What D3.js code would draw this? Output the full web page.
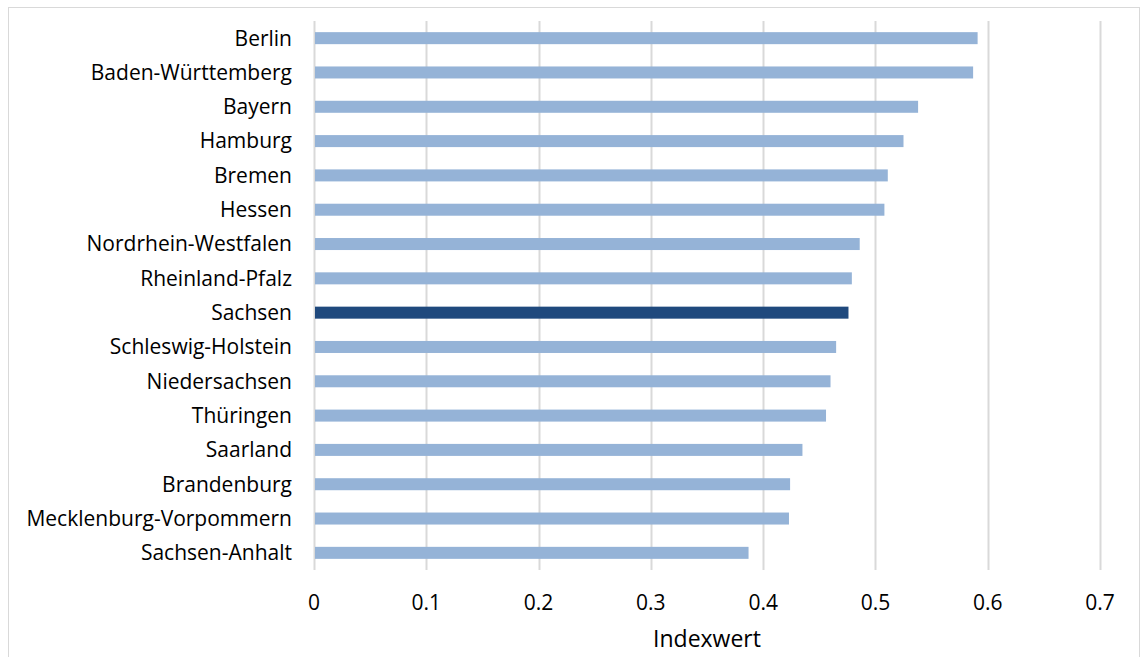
<!DOCTYPE html>
<html><head><meta charset="utf-8">
<script src="https://cdn.jsdelivr.net/npm/d3@7"></script>
<style>body{margin:0;background:#fff}svg{display:block}text{font-family:"Open Sans",Lato,sans-serif;fill:#000}</style>
</head><body><svg id="c" width="1147" height="657"></svg>
<script>
const categories = ["Berlin","Baden-Württemberg","Bayern","Hamburg","Bremen","Hessen","Nordrhein-Westfalen","Rheinland-Pfalz","Sachsen","Schleswig-Holstein","Niedersachsen","Thüringen","Saarland","Brandenburg","Mecklenburg-Vorpommern","Sachsen-Anhalt"];
const values = [0.591,0.587,0.538,0.525,0.511,0.508,0.486,0.479,0.476,0.465,0.460,0.456,0.435,0.424,0.423,0.387];
const highlight = "Sachsen";
const ticks = [0,0.1,0.2,0.3,0.4,0.5,0.6,0.7];
const tickLabels = ["0","0.1","0.2","0.3","0.4","0.5","0.6","0.7"];
const axisTitle = "Indexwert";

const svg = d3.select("#c");
svg.append("rect").attr("x",8.5).attr("y",7.5).attr("width",1131).attr("height",670)
  .attr("fill","none").attr("stroke","#d9d9d9").attr("stroke-width",1);

const x = d3.scaleLinear().domain([0,0.7]).range([314,1100]);
const y = d3.scaleBand().domain(categories).range([21,570]).paddingInner(0.65).paddingOuter(0.325);

svg.append("g").selectAll("line").data(ticks).join("line")
  .attr("x1",d=>Math.round(x(d))+0.5).attr("x2",d=>Math.round(x(d))+0.5)
  .attr("y1",21).attr("y2",570).attr("stroke","#d9d9d9").attr("stroke-width",2);

svg.append("g").selectAll("rect").data(categories).join("rect")
  .attr("x",x(0)+1).attr("y",d=>y(d)).attr("height",y.bandwidth())
  .attr("width",(d,i)=>x(values[i])-x(0)-1)
  .attr("fill",d=>d===highlight?"#1F497D":"#95B3D7");

svg.append("g").selectAll("text").data(categories).join("text")
  .attr("x",292).attr("y",d=>y(d)+y.bandwidth()/2).attr("dy","0.35em")
  .attr("text-anchor","end").attr("font-size",21).text(d=>d);

svg.append("g").selectAll("text").data(ticks).join("text")
  .attr("x",d=>x(d)).attr("y",603).attr("dy","0.35em")
  .attr("text-anchor","middle").attr("font-size",21).text((d,i)=>tickLabels[i]);

svg.append("text").attr("x",(x(0)+x(0.7))/2).attr("y",639).attr("dy","0.35em")
  .attr("text-anchor","middle").attr("font-size",23).text(axisTitle);
</script></body></html>
